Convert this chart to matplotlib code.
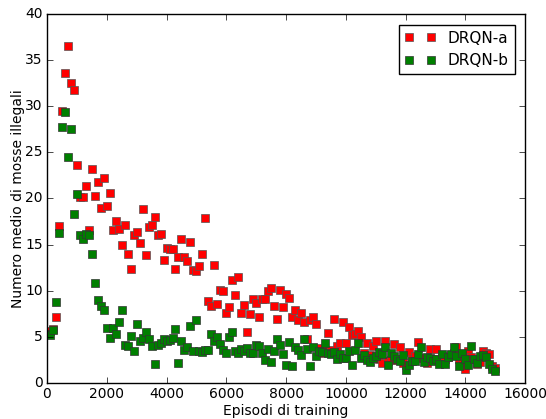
import matplotlib
matplotlib.use("Agg")
import matplotlib.pyplot as plt
import numpy as np

episodes = list(range(0, 15001, 100))

drqn_a = [5.5, 5.6, 5.8, 7.2, 17.0, 29.5, 33.6, 36.5, 32.5, 31.7,
          23.6, 20.2, 20.2, 21.3, 16.6, 23.2, 20.3, 21.8, 19.0, 22.2,
          19.2, 20.6, 16.6, 17.5, 16.7, 14.9, 17.1, 14.0, 12.4, 16.0,
          16.4, 15.2, 18.8, 13.9, 16.9, 17.1, 18.0, 16.0, 16.1, 13.3,
          14.6, 14.5, 14.5, 12.4, 13.6, 15.6, 13.7, 13.2, 15.3, 12.2,
          12.1, 12.7, 14.0, 17.9, 8.9, 8.3, 12.8, 8.6, 10.1, 10.0,
          7.6, 8.2, 11.2, 9.5, 11.5, 7.6, 8.4, 5.5, 7.5, 9.1,
          8.7, 7.2, 9.1, 9.1, 10.0, 10.3, 8.3, 6.9, 10.1, 8.2,
          9.6, 9.2, 7.1, 7.9, 6.8, 7.6, 6.6, 4.8, 6.8, 7.1,
          6.4, 3.8, 3.3, 3.6, 5.4, 3.6, 6.9, 4.0, 4.3, 6.6,
          4.3, 6.1, 5.2, 5.3, 5.6, 5.0, 3.2, 4.3, 3.0, 4.0,
          4.5, 2.6, 2.2, 4.5, 2.4, 2.5, 4.2, 2.5, 3.9, 2.2,
          2.0, 3.4, 2.6, 2.9, 4.4, 2.7, 2.7, 2.2, 3.7, 2.6,
          3.7, 2.5, 2.9, 2.6, 2.8, 3.0, 3.2, 3.9, 2.6, 2.2,
          1.5, 3.5, 2.8, 2.6, 2.1, 2.3, 3.5, 3.2, 3.1, 1.8,
          1.6]

drqn_b = [5.3, 5.2, 5.7, 8.8, 16.3, 27.7, 29.4, 24.5, 27.5, 18.3,
          20.5, 16.0, 15.6, 16.1, 16.0, 14.0, 10.8, 9.0, 8.3, 7.9,
          6.0, 4.9, 6.0, 5.3, 6.6, 7.9, 4.1, 4.0, 5.1, 3.5,
          6.4, 4.6, 4.9, 5.5, 4.8, 4.0, 2.1, 4.1, 4.3, 4.8,
          4.6, 4.7, 4.9, 5.9, 2.2, 4.6, 3.6, 3.9, 6.2, 3.5,
          6.8, 3.5, 3.4, 3.6, 3.6, 5.3, 4.6, 5.0, 4.2, 3.6,
          3.3, 5.0, 5.5, 3.5, 3.2, 3.7, 3.5, 3.8, 3.3, 3.3,
          4.1, 4.0, 3.3, 2.5, 3.7, 2.3, 3.5, 4.8, 4.1, 3.1,
          2.0, 4.4, 1.8, 3.9, 3.6, 3.0, 4.8, 3.7, 1.8, 3.9,
          2.9, 3.5, 3.4, 4.3, 3.3, 3.1, 3.4, 2.6, 3.1, 2.7,
          2.7, 3.5, 1.9, 3.6, 4.3, 2.7, 3.0, 2.5, 2.3, 2.7,
          2.9, 3.4, 3.1, 3.9, 2.0, 3.3, 2.9, 2.6, 2.4, 3.0,
          1.4, 2.0, 2.4, 2.4, 3.1, 3.9, 2.3, 2.8, 2.7, 2.4,
          2.6, 2.1, 3.1, 2.1, 2.8, 3.1, 3.9, 2.9, 1.8, 3.3,
          2.6, 1.9, 4.0, 2.6, 2.2, 2.9, 3.0, 2.8, 2.1, 1.5,
          1.3]

labels = ["DRQN-a", "DRQN-b"]

plt.style.use("classic")
fig = plt.figure(figsize=(5.46, 4.19), dpi=100, facecolor="white")
ax = fig.add_axes([0.086, 0.086, 0.876, 0.881])

ax.plot(episodes, drqn_a, "s", color="#ff0000", markersize=6,
        markeredgecolor="#555555", markeredgewidth=0.5, label=labels[0])
ax.plot(episodes, drqn_b, "s", color="#007f00", markersize=6,
        markeredgecolor="#333333", markeredgewidth=0.5, label=labels[1])

ax.set_xlim(0, 16000)
ax.set_ylim(0, 40)
ax.set_xticks(np.arange(0, 16001, 2000))
ax.set_yticks(np.arange(0, 41, 5))
ax.tick_params(labelsize=10, pad=3)
ax.set_xlabel("Episodi di training", fontsize=10, labelpad=2)
ax.set_ylabel("Numero medio di mosse illegali", fontsize=10, labelpad=0)

leg = ax.legend(loc="upper right", numpoints=2, fontsize=11, fancybox=False,
                borderaxespad=0.7)
leg.get_frame().set_linewidth(1.0)

fig.savefig("out.png", dpi=100, facecolor="white")
